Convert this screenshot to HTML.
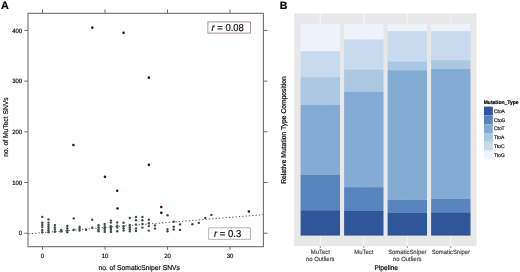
<!DOCTYPE html>
<html><head><meta charset="utf-8"><style>
html,body{margin:0;padding:0;background:#fff;width:520px;height:272px;overflow:hidden}
svg{display:block;will-change:transform}
text{font-family:"Liberation Sans",sans-serif;stroke-width:0.2px;text-rendering:geometricPrecision}
</style></head><body>
<svg width="520" height="272" viewBox="0 0 520 272">
<text x="0.9" y="8.7" font-size="10.8" font-weight="bold" fill="#000" stroke="#000">A</text>
<text x="279.7" y="8.7" font-size="10.6" font-weight="bold" fill="#000" stroke="#000">B</text>
<rect x="28" y="13.3" width="235.39999999999998" height="233.39999999999998" fill="none" stroke="#707070" stroke-width="1.1"/>
<line x1="24.3" y1="233.20" x2="28" y2="233.20" stroke="#707070" stroke-width="1"/>
<line x1="263.4" y1="233.20" x2="267.5" y2="233.20" stroke="#707070" stroke-width="1"/>
<text transform="translate(22.20,235.35) scale(0.96,1)" font-size="6.25" text-anchor="end" fill="#111" stroke="#111">0</text>
<line x1="24.3" y1="182.50" x2="28" y2="182.50" stroke="#707070" stroke-width="1"/>
<line x1="263.4" y1="182.50" x2="267.5" y2="182.50" stroke="#707070" stroke-width="1"/>
<text transform="translate(22.20,184.65) scale(0.96,1)" font-size="6.25" text-anchor="end" fill="#111" stroke="#111">100</text>
<line x1="24.3" y1="131.80" x2="28" y2="131.80" stroke="#707070" stroke-width="1"/>
<line x1="263.4" y1="131.80" x2="267.5" y2="131.80" stroke="#707070" stroke-width="1"/>
<text transform="translate(22.20,133.95) scale(0.96,1)" font-size="6.25" text-anchor="end" fill="#111" stroke="#111">200</text>
<line x1="24.3" y1="81.10" x2="28" y2="81.10" stroke="#707070" stroke-width="1"/>
<line x1="263.4" y1="81.10" x2="267.5" y2="81.10" stroke="#707070" stroke-width="1"/>
<text transform="translate(22.20,83.25) scale(0.96,1)" font-size="6.25" text-anchor="end" fill="#111" stroke="#111">300</text>
<line x1="24.3" y1="30.40" x2="28" y2="30.40" stroke="#707070" stroke-width="1"/>
<line x1="263.4" y1="30.40" x2="267.5" y2="30.40" stroke="#707070" stroke-width="1"/>
<text transform="translate(22.20,32.55) scale(0.96,1)" font-size="6.25" text-anchor="end" fill="#111" stroke="#111">400</text>
<line x1="42.50" y1="246.7" x2="42.50" y2="249.7" stroke="#707070" stroke-width="1"/>
<line x1="42.50" y1="9.4" x2="42.50" y2="13.3" stroke="#707070" stroke-width="1"/>
<text transform="translate(42.50,257.60) scale(0.96,1)" font-size="6.25" text-anchor="middle" fill="#111" stroke="#111">0</text>
<line x1="105.00" y1="246.7" x2="105.00" y2="249.7" stroke="#707070" stroke-width="1"/>
<line x1="105.00" y1="9.4" x2="105.00" y2="13.3" stroke="#707070" stroke-width="1"/>
<text transform="translate(105.00,257.60) scale(0.96,1)" font-size="6.25" text-anchor="middle" fill="#111" stroke="#111">10</text>
<line x1="167.50" y1="246.7" x2="167.50" y2="249.7" stroke="#707070" stroke-width="1"/>
<line x1="167.50" y1="9.4" x2="167.50" y2="13.3" stroke="#707070" stroke-width="1"/>
<text transform="translate(167.50,257.60) scale(0.96,1)" font-size="6.25" text-anchor="middle" fill="#111" stroke="#111">20</text>
<line x1="230.00" y1="246.7" x2="230.00" y2="249.7" stroke="#707070" stroke-width="1"/>
<line x1="230.00" y1="9.4" x2="230.00" y2="13.3" stroke="#707070" stroke-width="1"/>
<text transform="translate(230.00,257.60) scale(0.96,1)" font-size="6.25" text-anchor="middle" fill="#111" stroke="#111">30</text>
<text transform="translate(98.40,270.00) scale(0.96,1)" font-size="7.00" fill="#111" stroke="#111">no. of SomaticSniper SNVs</text>
<text transform="translate(8.20,156.80) rotate(-90) scale(0.96,1)" font-size="7.00" fill="#111" stroke="#111">no. of MuTect SNVs</text>
<line x1="28.5" y1="233.8" x2="262.9" y2="214.7" stroke="#555" stroke-width="1" stroke-dasharray="1.3 2.05"/>
<circle cx="42.3" cy="216.9" r="1.2" fill="#434b4b"/>
<circle cx="42.3" cy="222.7" r="1.2" fill="#434b4b"/>
<circle cx="42.3" cy="224.9" r="1.2" fill="#434b4b"/>
<circle cx="42.3" cy="227.1" r="1.2" fill="#434b4b"/>
<circle cx="42.3" cy="229.9" r="1.2" fill="#434b4b"/>
<circle cx="42.3" cy="232.3" r="1.2" fill="#434b4b"/>
<circle cx="48.5" cy="219.4" r="1.2" fill="#434b4b"/>
<circle cx="48.5" cy="222.6" r="1.2" fill="#434b4b"/>
<circle cx="48.5" cy="224.8" r="1.2" fill="#434b4b"/>
<circle cx="48.5" cy="226.8" r="1.2" fill="#434b4b"/>
<circle cx="48.5" cy="228.8" r="1.2" fill="#434b4b"/>
<circle cx="48.5" cy="230.6" r="1.2" fill="#434b4b"/>
<circle cx="48.5" cy="232.2" r="1.2" fill="#434b4b"/>
<circle cx="54.9" cy="225.1" r="1.2" fill="#434b4b"/>
<circle cx="54.9" cy="227.5" r="1.2" fill="#434b4b"/>
<circle cx="54.9" cy="229.6" r="1.2" fill="#434b4b"/>
<circle cx="54.9" cy="231.8" r="1.2" fill="#434b4b"/>
<circle cx="61.2" cy="230.0" r="1.2" fill="#434b4b"/>
<circle cx="61.2" cy="231.5" r="1.2" fill="#434b4b"/>
<circle cx="67.3" cy="226.0" r="1.2" fill="#434b4b"/>
<circle cx="67.3" cy="228.3" r="1.2" fill="#434b4b"/>
<circle cx="67.3" cy="230.4" r="1.2" fill="#434b4b"/>
<circle cx="67.3" cy="232.3" r="1.2" fill="#434b4b"/>
<circle cx="73.7" cy="218.4" r="1.2" fill="#434b4b"/>
<circle cx="73.7" cy="229.7" r="1.2" fill="#434b4b"/>
<circle cx="79.6" cy="226.8" r="1.2" fill="#434b4b"/>
<circle cx="79.6" cy="228.8" r="1.2" fill="#434b4b"/>
<circle cx="79.6" cy="230.5" r="1.2" fill="#434b4b"/>
<circle cx="86.0" cy="229.7" r="1.2" fill="#434b4b"/>
<circle cx="92.2" cy="219.8" r="1.2" fill="#434b4b"/>
<circle cx="92.2" cy="227.7" r="1.2" fill="#434b4b"/>
<circle cx="98.5" cy="225.2" r="1.2" fill="#434b4b"/>
<circle cx="98.5" cy="227.4" r="1.2" fill="#434b4b"/>
<circle cx="98.5" cy="229.7" r="1.2" fill="#434b4b"/>
<circle cx="98.5" cy="231.3" r="1.2" fill="#434b4b"/>
<circle cx="104.7" cy="223.9" r="1.2" fill="#434b4b"/>
<circle cx="104.7" cy="226.1" r="1.2" fill="#434b4b"/>
<circle cx="104.7" cy="228.3" r="1.2" fill="#434b4b"/>
<circle cx="104.7" cy="230.1" r="1.2" fill="#434b4b"/>
<circle cx="104.7" cy="231.9" r="1.2" fill="#434b4b"/>
<circle cx="110.9" cy="220.6" r="1.2" fill="#434b4b"/>
<circle cx="110.9" cy="222.6" r="1.2" fill="#434b4b"/>
<circle cx="110.9" cy="226.1" r="1.2" fill="#434b4b"/>
<circle cx="110.9" cy="227.9" r="1.2" fill="#434b4b"/>
<circle cx="110.9" cy="229.7" r="1.2" fill="#434b4b"/>
<circle cx="110.9" cy="231.9" r="1.2" fill="#434b4b"/>
<circle cx="117.2" cy="222.4" r="1.2" fill="#434b4b"/>
<circle cx="117.2" cy="225.7" r="1.2" fill="#434b4b"/>
<circle cx="117.2" cy="227.4" r="1.2" fill="#434b4b"/>
<circle cx="117.2" cy="231.2" r="1.2" fill="#434b4b"/>
<circle cx="123.6" cy="222.8" r="1.2" fill="#434b4b"/>
<circle cx="123.6" cy="226.1" r="1.2" fill="#434b4b"/>
<circle cx="123.6" cy="228.3" r="1.2" fill="#434b4b"/>
<circle cx="123.6" cy="230.4" r="1.2" fill="#434b4b"/>
<circle cx="129.8" cy="218.0" r="1.2" fill="#434b4b"/>
<circle cx="129.8" cy="225.0" r="1.2" fill="#434b4b"/>
<circle cx="129.8" cy="227.2" r="1.2" fill="#434b4b"/>
<circle cx="129.8" cy="229.2" r="1.2" fill="#434b4b"/>
<circle cx="129.8" cy="231.3" r="1.2" fill="#434b4b"/>
<circle cx="136.0" cy="217.0" r="1.2" fill="#434b4b"/>
<circle cx="136.0" cy="220.3" r="1.2" fill="#434b4b"/>
<circle cx="136.0" cy="224.4" r="1.2" fill="#434b4b"/>
<circle cx="136.0" cy="228.4" r="1.2" fill="#434b4b"/>
<circle cx="136.0" cy="231.0" r="1.2" fill="#434b4b"/>
<circle cx="142.4" cy="217.0" r="1.2" fill="#434b4b"/>
<circle cx="142.4" cy="220.3" r="1.2" fill="#434b4b"/>
<circle cx="142.4" cy="224.0" r="1.2" fill="#434b4b"/>
<circle cx="142.4" cy="227.6" r="1.2" fill="#434b4b"/>
<circle cx="148.8" cy="219.8" r="1.2" fill="#434b4b"/>
<circle cx="148.8" cy="223.2" r="1.2" fill="#434b4b"/>
<circle cx="148.8" cy="226.1" r="1.2" fill="#434b4b"/>
<circle cx="148.8" cy="230.6" r="1.2" fill="#434b4b"/>
<circle cx="155.0" cy="225.4" r="1.2" fill="#434b4b"/>
<circle cx="155.0" cy="228.6" r="1.2" fill="#434b4b"/>
<circle cx="167.5" cy="215.3" r="1.2" fill="#434b4b"/>
<circle cx="167.5" cy="229.1" r="1.2" fill="#434b4b"/>
<circle cx="167.5" cy="231.2" r="1.2" fill="#434b4b"/>
<circle cx="173.7" cy="221.8" r="1.2" fill="#434b4b"/>
<circle cx="173.7" cy="226.8" r="1.2" fill="#434b4b"/>
<circle cx="173.7" cy="229.5" r="1.2" fill="#434b4b"/>
<circle cx="180.0" cy="224.4" r="1.2" fill="#434b4b"/>
<circle cx="180.0" cy="230.0" r="1.2" fill="#434b4b"/>
<circle cx="192.4" cy="224.2" r="1.2" fill="#434b4b"/>
<circle cx="198.8" cy="222.9" r="1.2" fill="#434b4b"/>
<circle cx="205.2" cy="217.9" r="1.2" fill="#434b4b"/>
<circle cx="211.3" cy="214.9" r="1.2" fill="#434b4b"/>
<circle cx="92.3" cy="27.65" r="1.3" fill="#420812"/>
<circle cx="123.6" cy="32.85" r="1.3" fill="#420812"/>
<circle cx="148.8" cy="77.65" r="1.3" fill="#420812"/>
<circle cx="73.4" cy="145.05" r="1.3" fill="#420812"/>
<circle cx="148.9" cy="164.85" r="1.3" fill="#420812"/>
<circle cx="105.0" cy="176.85" r="1.3" fill="#420812"/>
<circle cx="117.2" cy="190.75" r="1.3" fill="#420812"/>
<circle cx="117.5" cy="208.55" r="1.3" fill="#420812"/>
<circle cx="161.3" cy="206.95" r="1.3" fill="#420812"/>
<circle cx="161.3" cy="212.85" r="1.3" fill="#420812"/>
<circle cx="248.9" cy="211.55" r="1.3" fill="#420812"/>
<rect x="207.9" y="21.9" width="42.6" height="11.2" fill="#fff" stroke="#a08a8a" stroke-width="0.9"/>
<text transform="translate(211.4,30.75) scale(0.95,1)" font-size="10" fill="#111" stroke="#111"><tspan font-style="italic">r</tspan> = 0.08</text>
<rect x="208.7" y="227.8" width="41.8" height="11.5" fill="#fff" stroke="#a6b0ae" stroke-width="0.9"/>
<text transform="translate(214.0,237.2) scale(0.95,1)" font-size="10" fill="#111" stroke="#111"><tspan font-style="italic">r</tspan> = 0.3</text>
<rect x="294" y="13.5" width="182.5" height="232.5" fill="#e8e8e8"/>
<line x1="320.30" y1="13.5" x2="320.30" y2="246" stroke="#f7f7f7" stroke-width="0.9"/>
<line x1="363.80" y1="13.5" x2="363.80" y2="246" stroke="#f7f7f7" stroke-width="0.9"/>
<line x1="407.30" y1="13.5" x2="407.30" y2="246" stroke="#f7f7f7" stroke-width="0.9"/>
<line x1="450.80" y1="13.5" x2="450.80" y2="246" stroke="#f7f7f7" stroke-width="0.9"/>
<rect x="300.60" y="23.8" width="39.40" height="27.50" fill="#eef2fb"/>
<rect x="300.60" y="51.3" width="39.40" height="25.90" fill="#c8daee"/>
<rect x="300.60" y="77.2" width="39.40" height="27.60" fill="#aac8e1"/>
<rect x="300.60" y="104.8" width="39.40" height="69.70" fill="#84abd3"/>
<rect x="300.60" y="174.5" width="39.40" height="35.70" fill="#5985bf"/>
<rect x="300.60" y="210.2" width="39.40" height="25.40" fill="#2f559a"/>
<line x1="320.30" y1="246" x2="320.30" y2="248" stroke="#666" stroke-width="0.7"/>
<rect x="344.10" y="23.8" width="39.40" height="15.80" fill="#eef2fb"/>
<rect x="344.10" y="39.6" width="39.40" height="29.90" fill="#c8daee"/>
<rect x="344.10" y="69.5" width="39.40" height="22.50" fill="#aac8e1"/>
<rect x="344.10" y="92.0" width="39.40" height="95.20" fill="#84abd3"/>
<rect x="344.10" y="187.2" width="39.40" height="23.80" fill="#5985bf"/>
<rect x="344.10" y="211.0" width="39.40" height="24.60" fill="#2f559a"/>
<line x1="363.80" y1="246" x2="363.80" y2="248" stroke="#666" stroke-width="0.7"/>
<rect x="387.60" y="23.8" width="39.40" height="7.50" fill="#eef2fb"/>
<rect x="387.60" y="31.3" width="39.40" height="30.20" fill="#c8daee"/>
<rect x="387.60" y="61.5" width="39.40" height="8.70" fill="#aac8e1"/>
<rect x="387.60" y="70.2" width="39.40" height="129.60" fill="#84abd3"/>
<rect x="387.60" y="199.8" width="39.40" height="13.20" fill="#5985bf"/>
<rect x="387.60" y="213.0" width="39.40" height="22.60" fill="#2f559a"/>
<line x1="407.30" y1="246" x2="407.30" y2="248" stroke="#666" stroke-width="0.7"/>
<rect x="431.10" y="23.8" width="39.40" height="7.50" fill="#eef2fb"/>
<rect x="431.10" y="31.3" width="39.40" height="28.90" fill="#c8daee"/>
<rect x="431.10" y="60.2" width="39.40" height="8.70" fill="#aac8e1"/>
<rect x="431.10" y="68.9" width="39.40" height="130.10" fill="#84abd3"/>
<rect x="431.10" y="199.0" width="39.40" height="13.30" fill="#5985bf"/>
<rect x="431.10" y="212.3" width="39.40" height="23.30" fill="#2f559a"/>
<line x1="450.80" y1="246" x2="450.80" y2="248" stroke="#666" stroke-width="0.7"/>
<text transform="translate(320.30,254.40) scale(0.96,1)" font-size="6.15" text-anchor="middle" fill="#4d4d4d" stroke="#4d4d4d">MuTect</text>
<text transform="translate(320.30,260.80) scale(0.96,1)" font-size="6.15" text-anchor="middle" fill="#4d4d4d" stroke="#4d4d4d">no Outliers</text>
<text transform="translate(363.80,254.40) scale(0.96,1)" font-size="6.15" text-anchor="middle" fill="#4d4d4d" stroke="#4d4d4d">MuTect</text>
<text transform="translate(407.30,254.40) scale(0.96,1)" font-size="6.15" text-anchor="middle" fill="#4d4d4d" stroke="#4d4d4d">SomaticSniper</text>
<text transform="translate(407.30,260.80) scale(0.96,1)" font-size="6.15" text-anchor="middle" fill="#4d4d4d" stroke="#4d4d4d">no Outliers</text>
<text transform="translate(450.80,254.40) scale(0.96,1)" font-size="6.15" text-anchor="middle" fill="#4d4d4d" stroke="#4d4d4d">SomaticSniper</text>
<text transform="translate(386.20,269.80) scale(0.96,1)" font-size="6.88" text-anchor="middle" fill="#000" stroke="#000">Pipeline</text>
<text transform="translate(285.60,130.00) rotate(-90) scale(0.96,1)" font-size="7.03" text-anchor="middle" fill="#000" stroke="#000">Relative Mutation Type Composition</text>
<text transform="translate(483.70,103.80) scale(0.96,1)" font-size="5.21" font-weight="bold" fill="#000" stroke="#000">Mutation_Type</text>
<rect x="484" y="106.60" width="8.8" height="8.8" fill="#2f559a"/>
<text transform="translate(494.00,112.70) scale(0.96,1)" font-size="5.10" fill="#1a1a1a" stroke="#1a1a1a">CtoA</text>
<rect x="484" y="115.40" width="8.8" height="8.8" fill="#5985bf"/>
<text transform="translate(494.00,121.50) scale(0.96,1)" font-size="5.10" fill="#1a1a1a" stroke="#1a1a1a">CtoG</text>
<rect x="484" y="124.20" width="8.8" height="8.8" fill="#84abd3"/>
<text transform="translate(494.00,130.30) scale(0.96,1)" font-size="5.10" fill="#1a1a1a" stroke="#1a1a1a">CtoT</text>
<rect x="484" y="133.00" width="8.8" height="8.8" fill="#aac8e1"/>
<text transform="translate(494.00,139.10) scale(0.96,1)" font-size="5.10" fill="#1a1a1a" stroke="#1a1a1a">TtoA</text>
<rect x="484" y="141.80" width="8.8" height="8.8" fill="#c8daee"/>
<text transform="translate(494.00,147.90) scale(0.96,1)" font-size="5.10" fill="#1a1a1a" stroke="#1a1a1a">TtoC</text>
<rect x="484" y="150.60" width="8.8" height="8.8" fill="#eef2fb"/>
<text transform="translate(494.00,156.70) scale(0.96,1)" font-size="5.10" fill="#1a1a1a" stroke="#1a1a1a">TtoG</text>
</svg>
</body></html>
